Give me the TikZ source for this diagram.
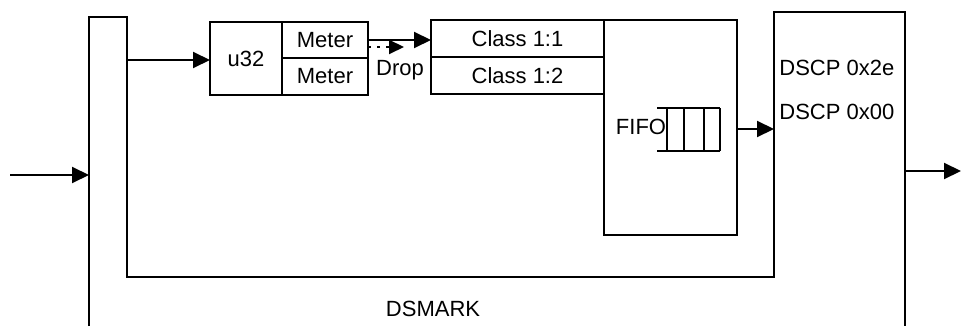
\documentclass[tikz,border=0pt]{standalone}
\usepackage{fontspec}
\setmainfont{Liberation Sans}
\usetikzlibrary{arrows.meta,positioning,calc}
\tikzset{
  cell/.style={
    draw=black,line width=.6pt,inner sep=0pt,outer sep=0pt,
    align=center,font=\fontsize{11}{13}\selectfont
  },
  txt/.style={inner sep=0pt,font=\fontsize{11}{13}\selectfont},
  frame/.style={draw=black,line width=1.2pt,line join=miter},
  arrow/.style={-{Triangle[length=8.5pt,width=8pt]},line width=1pt},
  droparrow/.style={-{Triangle[length=7.5pt,width=7pt]},line width=1pt,
    dash pattern=on 1.5pt off 3pt}
}
\begin{document}
\begin{tikzpicture}[x=0.5pt,y=-0.5pt]
\useasboundingbox (0,0) rectangle (961,326);

% DSMARK outline
\draw[frame] (89,326) -- (89,17) -- (127,17) -- (127,277) -- (774,277)
  -- (774,12) -- (905,12) -- (905,326);
\coordinate (in) at (10,175);
\coordinate (dsin) at (89,175);
\coordinate (split) at (127,60);
\coordinate (dscpin) at (774,129);
\coordinate (dsout) at (905,171);
\coordinate (out) at (961,171);

% filter and meters
\node[cell,minimum width=36pt,minimum height=36.5pt] (u32) at (246,58.5) {u32};
\node[cell,anchor=north west,minimum width=43pt,minimum height=18pt]
  (meterA) at (u32.north east) {Meter};
\node[cell,below=0pt of meterA,minimum width=43pt,minimum height=18.5pt]
  (meterB) {Meter};

% classes and queue
\node[cell,minimum width=86.5pt,minimum height=18.5pt] (classA) at (517.5,38.5)
  {Class 1:1};
\node[cell,below=0pt of classA,minimum width=86.5pt,minimum height=18.5pt]
  (classB) {Class 1:2};
\node[cell,anchor=north west,minimum width=66.5pt,minimum height=107.5pt]
  (fifo) at (classA.north east) {};
\node[txt] (fifolabel) at (641,127) {FIFO};
\draw[line width=1pt] (657,108) -- (720,108) (657,151) -- (720,151);
\foreach \x in {667,684,704,720}
  \draw[line width=1pt] (\x,108) -- (\x,151);

% marking
\node[txt,anchor=west] (dscpA) at (779,68) {DSCP 0x2e};
\node[txt,anchor=west] (dscpB) at (779,112) {DSCP 0x00};
\node[txt] (dsmark) at (433,309) {DSMARK};

\coordinate (dropend) at (404,47);
\node[txt] (drop) at (400,70) {Drop};

\draw[arrow] (in) -- (dsin);
\draw[arrow] (split) -- (split -| u32.west);
\draw[arrow] (meterA.east) -- (meterA.east -| classA.west);
\draw[droparrow] ($(meterA.east)+(0,7)$) -- (dropend);
\draw[arrow] (fifo.east |- dscpin) -- (dscpin);
\draw[arrow] (dsout) -- (out);
\end{tikzpicture}
\end{document}
